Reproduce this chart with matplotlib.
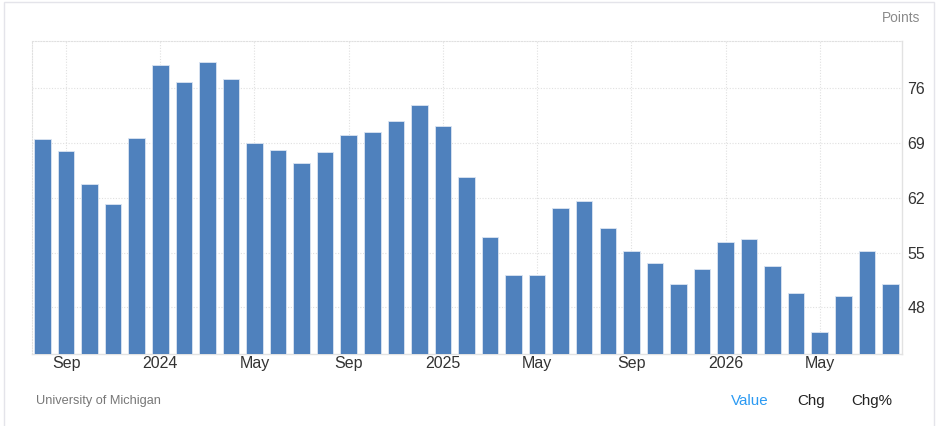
import matplotlib
matplotlib.use("Agg")
import matplotlib.pyplot as plt
from matplotlib.patches import Rectangle
import numpy as np
import pandas as pd

# ---- data ----
months = pd.period_range("2023-08", "2026-08", freq="M")
values = [69.5, 68.0, 63.8, 61.2, 69.6, 78.9, 76.8, 79.3, 77.1, 69.0,
          68.1, 66.4, 67.8, 70.0, 70.4, 71.8, 73.9, 71.1, 64.6, 57.0,
          52.2, 52.2, 60.7, 61.6, 58.1, 55.2, 53.7, 51.0, 52.9, 56.4,
          56.7, 53.3, 49.9, 44.9, 49.5, 55.2, 51.0]
y_ticks = [48, 55, 62, 69, 76]
tick_months = [1, 5, 9]
unit_label = "Points"
source = "University of Michigan"
buttons = ["Value", "Chg", "Chg%"]

plt.rcParams["font.family"] = ["Liberation Sans", "DejaVu Sans"]

W, H = 936, 426
fig = plt.figure(figsize=(W / 100, H / 100), dpi=100)
fig.patch.set_facecolor("white")

# outer frame
fig.patches.append(Rectangle((4 / W, -0.02), 930 / W, 1.02 - 1.5 / H,
                             transform=fig.transFigure, fill=False,
                             edgecolor="#e4e4ea", linewidth=1.0))

ax = fig.add_axes([31.7 / W, 1 - 354 / H, 870 / W, (354 - 40.7) / H])
x = np.arange(len(values))
ax.bar(x, values, width=0.70, color="#4f81bd", edgecolor="#dbe5f2",
       linewidth=0.6, zorder=3)

ax.set_ylim(42.05, 82.05)
ax.set_xlim(-0.46, len(values) - 1 + 0.48)

ax.yaxis.tick_right()
ax.set_yticks(y_ticks)
ax.set_yticklabels([str(v) for v in y_ticks])
tick_pos = [i for i, m in enumerate(months) if m.month in tick_months]
tick_lab = [str(months[i].year) if months[i].month == 1 else months[i].strftime("%b")
            for i in tick_pos]
ax.set_xticks(tick_pos)
ax.set_xticklabels(tick_lab)
ax.tick_params(axis="both", length=0, labelsize=11.5, colors="#333333")
ax.tick_params(axis="x", pad=1.5)
ax.tick_params(axis="y", pad=4)

ax.grid(True, axis="both", linestyle=(0, (1, 1.5)), color="#e0e0e0",
        linewidth=0.8, zorder=0)

for s in ("top", "left"):
    ax.spines[s].set_linestyle((0, (1, 1.5)))
    ax.spines[s].set_color("#e0e0e0")
    ax.spines[s].set_linewidth(0.8)
ax.spines["right"].set_color("#e2e2e2")
ax.spines["bottom"].set_color("#e2e2e2")
ax.spines["right"].set_linewidth(1.0)
ax.spines["bottom"].set_linewidth(1.0)

fig.text(920 / W, 1 - 18 / H, unit_label, ha="right", va="center",
         fontsize=9.9, color="#8a8a8a")
fig.text(36 / W, 1 - 401 / H, source, ha="left", va="center",
         fontsize=9.2, color="#777777")
btn_x = [731, 797, 851]
btn_c = ["#2b9af3", "#222222", "#222222"]
for bx, b, c in zip(btn_x, buttons, btn_c):
    fig.text(bx / W, 1 - 401 / H, b, ha="left", va="center",
             fontsize=10.9, color=c)

fig.savefig("out.png", dpi=100)
